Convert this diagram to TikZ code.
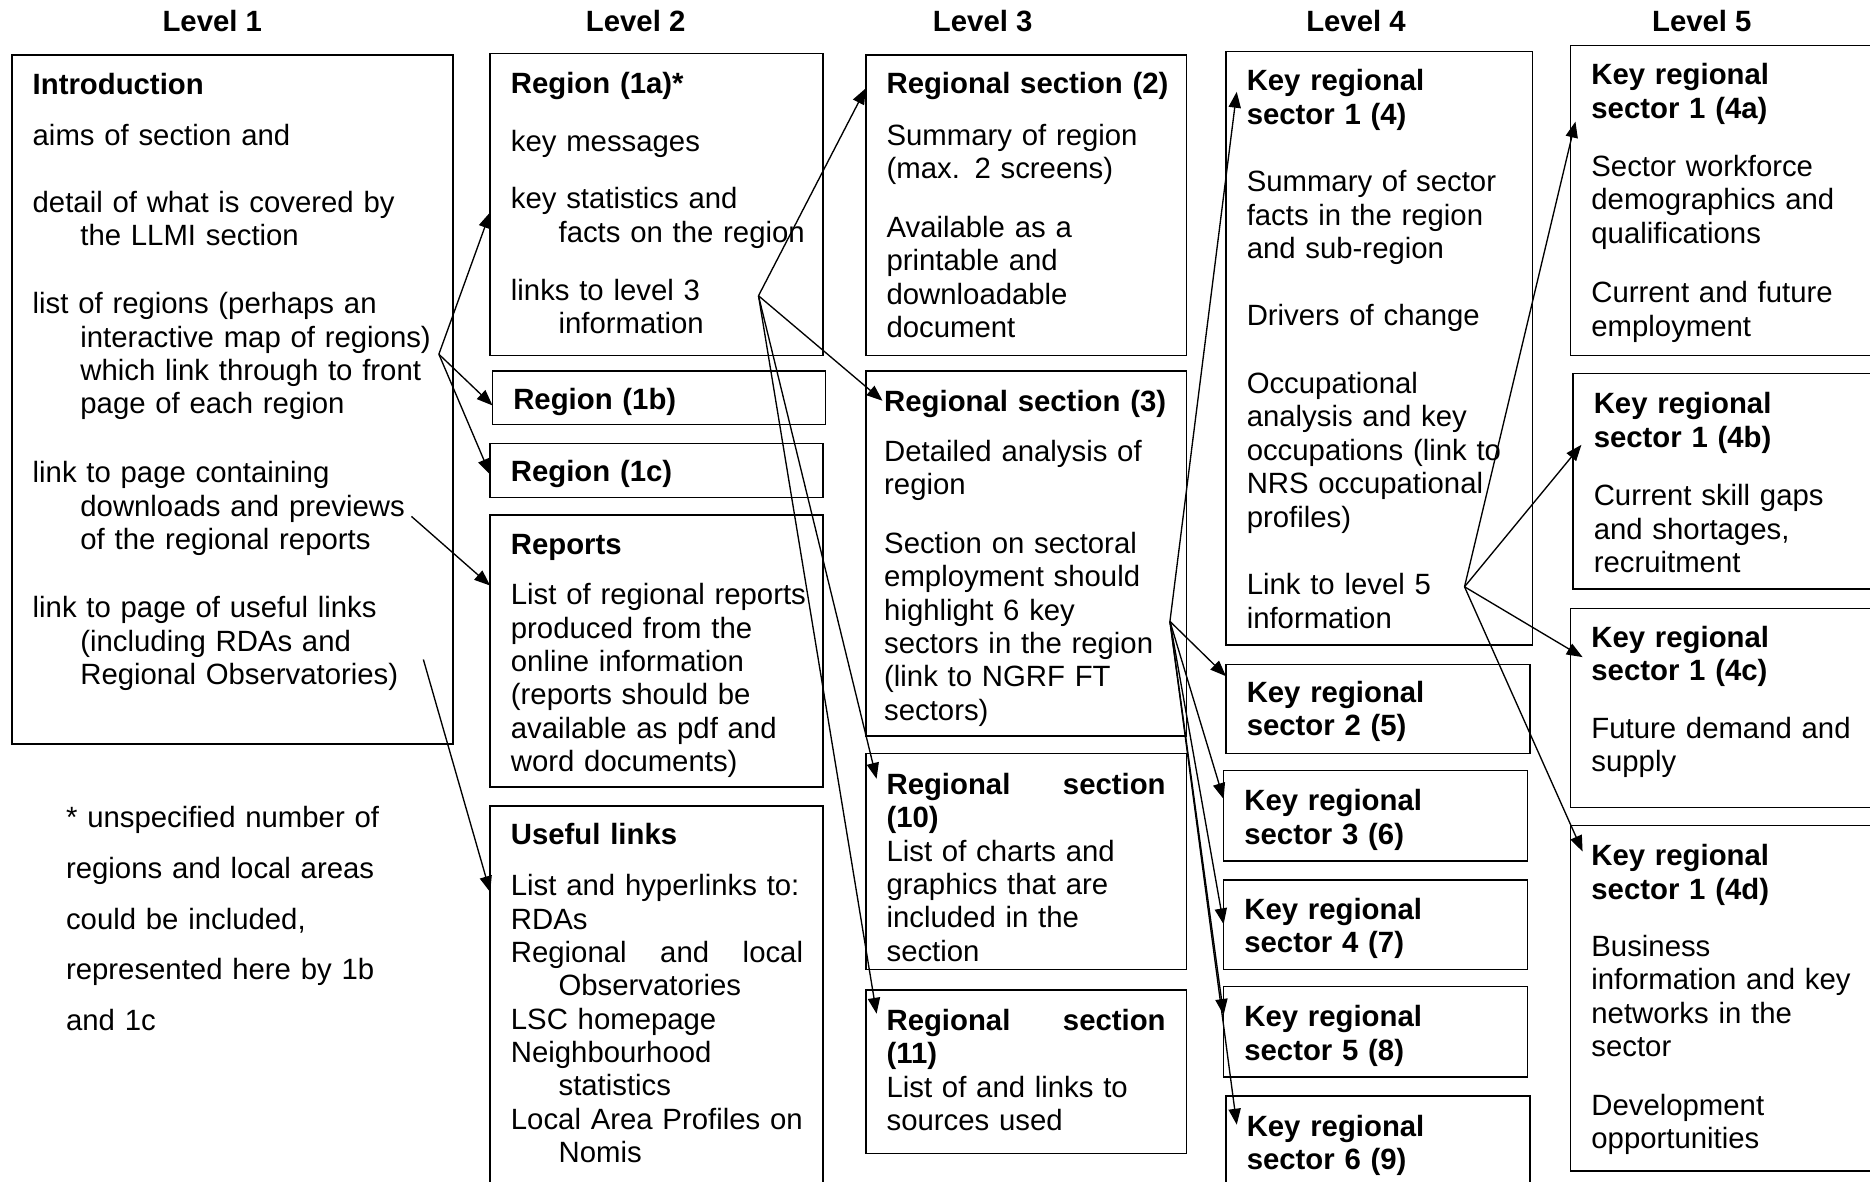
\documentclass[tikz,border=0pt]{standalone}
\usepackage{fontspec}
\setmainfont{Liberation Sans}
\usetikzlibrary{arrows.meta,calc}
\newlength\unitpx
\setlength\unitpx{0.488pt}
\newcommand\hind{\hspace*{40\unitpx}}

\begin{document}
\begin{tikzpicture}[x=\unitpx,y=-\unitpx,
  every node/.style={font=\fontsize{12}{13.66}\selectfont},
  box/.style={draw,line width=0.6pt,inner sep=0pt,outer sep=0pt},
  txt/.style={anchor=base west,inner sep=0pt,text width=260\unitpx,align=left},
  heading/.style={anchor=base,inner sep=0pt,font=\fontsize{12}{13.66}\selectfont\bfseries},
  link/.style={-{Triangle[length=6.5pt,width=5pt]},line width=0.55pt}]
  \useasboundingbox (0,0) rectangle (1568,991);
  \clip (0,0) rectangle (1568,991);

  \node at(178,26)[heading](lvlone){Level 1};
  \node at(533,26)[heading](lvltwo){Level 2};
  \node at(824,26)[heading](lvlthree){Level 3};
  \node at(1137,26)[heading](lvlfour){Level 4};
  \node at(1427,26)[heading](lvlfive){Level 5};

  \node at(195,335)[box,minimum width=370\unitpx,minimum height=578\unitpx](intro){};
  \node at(550.5,171.5)[box,minimum width=279\unitpx,minimum height=253\unitpx](reg1a){};
  \node at(552.5,333.5)[box,minimum width=279\unitpx,minimum height=45\unitpx](reg1b){};
  \node at(550.5,394.5)[box,minimum width=279\unitpx,minimum height=45\unitpx](reg1c){};
  \node at(550.5,546)[box,minimum width=279\unitpx,minimum height=228\unitpx](reports){};
  \node at(550.5,838)[box,minimum width=279\unitpx,minimum height=324\unitpx](useful){};
  \node at(860.5,172)[box,minimum width=269\unitpx,minimum height=252\unitpx](sec2){};
  \node at(860.5,464)[box,minimum width=269\unitpx,minimum height=306\unitpx](sec3){};
  \node at(860.5,722.5)[box,minimum width=269\unitpx,minimum height=181\unitpx](sec10){};
  \node at(860.5,898.5)[box,minimum width=269\unitpx,minimum height=137\unitpx](sec11){};
  \node at(1156.5,292)[box,minimum width=257\unitpx,minimum height=498\unitpx](sector1){};
  \node at(1155.5,594.5)[box,minimum width=255\unitpx,minimum height=75\unitpx](sector2){};
  \node at(1153.5,684)[box,minimum width=255\unitpx,minimum height=76\unitpx](sector3){};
  \node at(1153.5,775.5)[box,minimum width=255\unitpx,minimum height=75\unitpx](sector4){};
  \node at(1153.5,865)[box,minimum width=255\unitpx,minimum height=76\unitpx](sector5){};
  \node at(1155.5,959.5)[box,minimum width=255\unitpx,minimum height=81\unitpx](sector6){};
  \node at(1448.5,168)[box,minimum width=263\unitpx,minimum height=260\unitpx](sectora){};
  \node at(1449.5,403.5)[box,minimum width=261\unitpx,minimum height=181\unitpx](sectorb){};
  \node at(1448.5,593.5)[box,minimum width=263\unitpx,minimum height=167\unitpx](sectorc){};
  \node at(1448.5,837)[box,minimum width=263\unitpx,minimum height=290\unitpx](sectord){};

  \node at(27,79)[txt,text width=350\unitpx](introtext){\textbf{Introduction}\\[15\unitpx]
    aims of section and\\[28\unitpx]
    detail of what is covered by\\ \hind the LLMI section\\[29\unitpx]
    list of regions (perhaps an\\ \hind interactive map of regions)\\ \hind which link through to front\\ \hind page of each region\\[30\unitpx]
    link to page containing\\ \hind downloads and previews\\ \hind of the regional reports\\[29\unitpx]
    link to page of useful links\\ \hind (including RDAs and\\ \hind Regional Observatories)};
  \node at(428,78)[txt](reg1atext){\textbf{Region (1a)*}\\[21\unitpx]
    key messages\\[20\unitpx]
    key statistics and\\ \hind facts on the region\\[21\unitpx]
    links to level 3\\ \hind information};
  \node at(430,343)[txt](reg1btext){\textbf{Region (1b)}};
  \node at(428,404)[txt](reg1ctext){\textbf{Region (1c)}};
  \node at(428,465)[txt](reportstext){\textbf{Reports}\\[14\unitpx]
    List of regional reports\\ produced from the\\ online information\\ (reports should be\\ available as pdf and\\ word documents)};
  \node at(428,708)[txt](usefultext){\textbf{Useful links}\\[15\unitpx]
    List and hyperlinks to:\\ RDAs\\ \makebox[245\unitpx][s]{Regional\hfill and\hfill local}\\ \hind Observatories\\
    LSC homepage\\ Neighbourhood\\ \hind statistics\\ Local Area Profiles on\\ \hind Nomis};
  \node at(743,78)[txt](sec2text){\textbf{Regional section (2)}\\[16\unitpx]
    Summary of region\\ (max. 2 screens)\\[21\unitpx]
    Available as a\\ printable and\\ downloadable\\ document};
  \node at(741,345)[txt](sec3text){\textbf{Regional section (3)}\\[14\unitpx]
    Detailed analysis of\\ region\\[21\unitpx]
    Section on sectoral\\ employment should\\ highlight 6 key\\ sectors in the region\\ (link to NGRF FT\\ sectors)};
  \node at(743,666)[txt](sec10text){\makebox[234\unitpx][s]{\bfseries Regional\hfill section}\\ \textbf{(10)}\\
    List of charts and\\ graphics that are\\ included in the\\ section};
  \node at(743,864)[txt](sec11text){\makebox[234\unitpx][s]{\bfseries Regional\hfill section}\\ \textbf{(11)}\\
    List of and links to\\ sources used};
  \node at(1045,76)[txt](sector1text){\textbf{Key regional}\\ \textbf{sector 1 (4)}\\[29\unitpx]
    Summary of sector\\ facts in the region\\ and sub-region\\[28\unitpx]
    Drivers of change\\[29\unitpx]
    Occupational\\ analysis and key\\ occupations (link to\\ NRS occupational\\ profiles)\\[29\unitpx]
    Link to level 5\\ information};
  \node at(1045,589)[txt](sector2text){\textbf{Key regional}\\ \textbf{sector 2 (5)}};
  \node at(1043,680)[txt](sector3text){\textbf{Key regional}\\ \textbf{sector 3 (6)}};
  \node at(1043,771)[txt](sector4text){\textbf{Key regional}\\ \textbf{sector 4 (7)}};
  \node at(1043,861)[txt](sector5text){\textbf{Key regional}\\ \textbf{sector 5 (8)}};
  \node at(1045,953)[txt](sector6text){\textbf{Key regional}\\ \textbf{sector 6 (9)}};
  \node at(1334,71)[txt](sectoratext){\textbf{Key regional}\\ \textbf{sector 1 (4a)}\\[21\unitpx]
    Sector workforce\\ demographics and\\ qualifications\\[22\unitpx]
    Current and future\\ employment};
  \node at(1336,347)[txt](sectorbtext){\textbf{Key regional}\\ \textbf{sector 1 (4b)}\\[21\unitpx]
    Current skill gaps\\ and shortages,\\ recruitment};
  \node at(1334,543)[txt](sectorctext){\textbf{Key regional}\\ \textbf{sector 1 (4c)}\\[20\unitpx]
    Future demand and\\ supply};
  \node at(1334,726)[txt](sectordtext){\textbf{Key regional}\\ \textbf{sector 1 (4d)}\\[20\unitpx]
    Business\\ information and key\\ networks in the\\ sector\\[21\unitpx]
    Development\\ opportunities};

  \node at(55,694)[txt,text width=350\unitpx](note){* unspecified number of\\[14.5\unitpx] regions and local areas\\[14.5\unitpx]
    could be included,\\[14.5\unitpx] represented here by 1b\\[14.5\unitpx] and 1c};

  \coordinate (introfork) at (368,297);
  \coordinate (reportsfrom) at (345,433);
  \coordinate (usefulfrom) at (355,553);
  \coordinate (reg1afork) at (636,248);
  \coordinate (sec3fork) at (981,521);
  \coordinate (sector1fork) at (1228,492);

  \draw [link](introfork) -- ($(reg1a.north west)+(0,133)$);
  \draw [link](introfork) -- ($(reg1b.north west)+(0,29)$);
  \draw [link](introfork) -- ($(reg1c.north west)+(0,26)$);
  \draw [link](reportsfrom) -- ($(reports.north west)+(0,59)$);
  \draw [link](usefulfrom) -- ($(useful.north west)+(0,72)$);

  \draw [link](reg1afork) -- ($(sec2.north west)+(0,28)$);
  \draw [link](reg1afork) -- ($(sec3.north west)+(14,25)$);
  \draw [link](reg1afork) -- ($(sec10.north west)+(9,21)$);
  \draw [link](reg1afork) -- ($(sec11.north west)+(9,20)$);

  \draw [link](sec3fork) -- ($(sector1.north west)+(9,34)$);
  \draw [link](sec3fork) -- ($(sector2.north west)+(0,10)$);
  \draw [link](sec3fork) -- ($(sector3.north west)+(0,24)$);
  \draw [link](sec3fork) -- ($(sector4.north west)+(0,37)$);
  \draw [link](sec3fork) -- ($(sector5.north west)+(0,24)$);
  \draw [link](sec3fork) -- ($(sector6.north west)+(9,24)$);

  \draw [link](sector1fork) -- ($(sectora.north west)+(4,64)$);
  \draw [link](sector1fork) -- ($(sectorb.north west)+(7,60)$);
  \draw [link](sector1fork) -- ($(sectorc.north west)+(10,41)$);
  \draw [link](sector1fork) -- ($(sectord.north west)+(10,22)$);
\end{tikzpicture}
\end{document}
